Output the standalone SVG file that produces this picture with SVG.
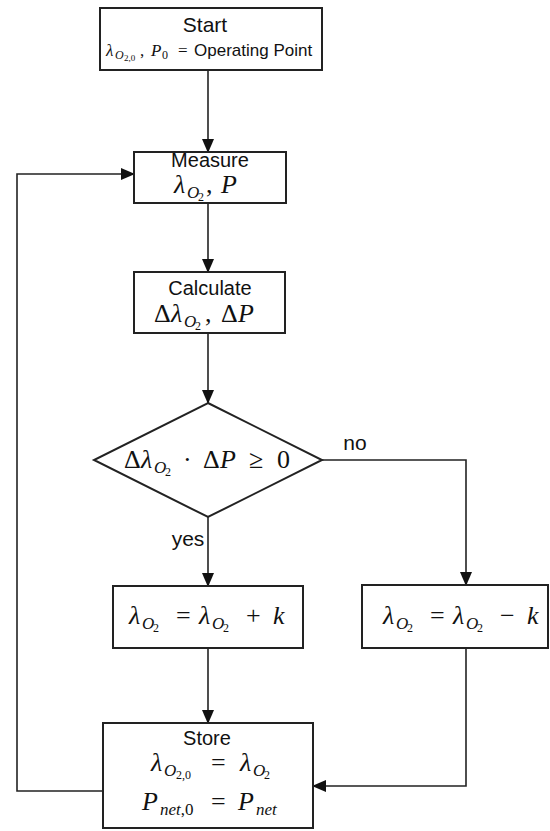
<svg xmlns="http://www.w3.org/2000/svg" width="550" height="831" viewBox="0 0 550 831">
<style>
.box{fill:#fff;stroke:#222;stroke-width:2}
.ln{fill:none;stroke:#222;stroke-width:1.6}
.sans{font-family:"Liberation Sans",Arial,sans-serif;fill:#111}
.m{font-family:"Liberation Serif","Times New Roman",serif;fill:#111}
.i{font-style:italic}
.b{font-size:26px}
.s{font-size:17px}
.ss{font-size:12px}
</style>
<defs>
<marker id="ah" markerWidth="14" markerHeight="12" refX="13" refY="6" orient="auto" markerUnits="userSpaceOnUse">
<path d="M0,0 L14,6 L0,12 Z" fill="#111"/>
</marker>
</defs>
<rect width="550" height="831" fill="#fff"/>

<g id="connectors">
<path class="ln" d="M208,70 V152" marker-end="url(#ah)"/>
<path class="ln" d="M208,203 V272" marker-end="url(#ah)"/>
<path class="ln" d="M208,333 V403" marker-end="url(#ah)"/>
<path class="ln" d="M208,517 V586" marker-end="url(#ah)"/>
<path class="ln" d="M322,460 H466 V585" marker-end="url(#ah)"/>
<path class="ln" d="M208,648 V723" marker-end="url(#ah)"/>
<path class="ln" d="M466,648 V786 H313" marker-end="url(#ah)"/>
<path class="ln" d="M103,791 H17 V174 H134" marker-end="url(#ah)"/>
<text class="sans" x="188" y="546" font-size="21" text-anchor="middle">yes</text>
<text class="sans" x="355" y="450" font-size="21" text-anchor="middle">no</text>
</g>

<g id="start">
<rect class="box" x="100" y="8" width="222" height="62"/>
<text class="sans" x="205" y="32" font-size="21" text-anchor="middle">Start</text>
<text y="56"><tspan class="m i" font-size="17" x="106">λ</tspan><tspan class="m i" font-size="12" x="115" dy="3">O</tspan><tspan class="m" font-size="9" x="124" dy="2">2,0</tspan><tspan class="m" font-size="17" x="140" dy="-5">,</tspan><tspan class="m i" font-size="17" x="151">P</tspan><tspan class="m" font-size="12" x="162" dy="3">0</tspan><tspan class="m" font-size="17" x="178" dy="-3">=</tspan><tspan class="sans" font-size="17" x="194">Operating Point</tspan></text>
</g>

<g id="measure">
<rect class="box" x="134" y="152" width="152" height="51"/>
<text class="sans" x="210" y="167" font-size="20" text-anchor="middle">Measure</text>
<text y="193"><tspan class="m i b" x="174">λ</tspan><tspan class="m i s" x="187" dy="5">O</tspan><tspan class="m ss" x="198" dy="3">2</tspan><tspan class="m b" x="206" dy="-8">,</tspan><tspan class="m i b" x="221">P</tspan></text>
</g>

<g id="calculate">
<rect class="box" x="134" y="272" width="151" height="61"/>
<text class="sans" x="210" y="295" font-size="20" text-anchor="middle">Calculate</text>
<text y="322"><tspan class="m b" x="154">Δ</tspan><tspan class="m i b" x="171">λ</tspan><tspan class="m i s" x="184" dy="5">O</tspan><tspan class="m ss" x="195" dy="3">2</tspan><tspan class="m b" x="205" dy="-8">,</tspan><tspan class="m b" x="221">Δ</tspan><tspan class="m i b" x="238">P</tspan></text>
</g>

<g id="decision">
<polygon class="box" points="208,403 322,460 208,517 94,460"/>
<text y="468"><tspan class="m b" x="124">Δ</tspan><tspan class="m i b" x="141">λ</tspan><tspan class="m i s" x="154" dy="5">O</tspan><tspan class="m ss" x="165" dy="3">2</tspan><tspan class="m b" x="183" dy="-8">·</tspan><tspan class="m b" x="203">Δ</tspan><tspan class="m i b" x="220">P</tspan><tspan class="m b" x="249">≥</tspan><tspan class="m b" x="277">0</tspan></text>
</g>

<g id="increase">
<rect class="box" x="113" y="586" width="190" height="62"/>
<text y="624"><tspan class="m i b" x="129">λ</tspan><tspan class="m i s" x="142" dy="5">O</tspan><tspan class="m ss" x="153" dy="3">2</tspan><tspan class="m b" x="176" dy="-8">=</tspan><tspan class="m i b" x="199">λ</tspan><tspan class="m i s" x="212" dy="5">O</tspan><tspan class="m ss" x="223" dy="3">2</tspan><tspan class="m b" x="246" dy="-8">+</tspan><tspan class="m i b" x="273">k</tspan></text>
</g>

<g id="decrease">
<rect class="box" x="362" y="585" width="186" height="63"/>
<text y="624"><tspan class="m i b" x="383">λ</tspan><tspan class="m i s" x="396" dy="5">O</tspan><tspan class="m ss" x="407" dy="3">2</tspan><tspan class="m b" x="430" dy="-8">=</tspan><tspan class="m i b" x="453">λ</tspan><tspan class="m i s" x="466" dy="5">O</tspan><tspan class="m ss" x="477" dy="3">2</tspan><tspan class="m b" x="500" dy="-8">−</tspan><tspan class="m i b" x="527">k</tspan></text>
</g>

<g id="store">
<rect class="box" x="103" y="723" width="210" height="105"/>
<text class="sans" x="207" y="745" font-size="20" text-anchor="middle">Store</text>
<text y="771"><tspan class="m i b" x="151">λ</tspan><tspan class="m i s" x="164" dy="5">O</tspan><tspan class="m ss" x="176" dy="3">2,0</tspan><tspan class="m b" x="211" dy="-8">=</tspan><tspan class="m i b" x="240">λ</tspan><tspan class="m i s" x="253" dy="5">O</tspan><tspan class="m ss" x="264" dy="3">2</tspan></text>
<text y="810"><tspan class="m i b" x="142">P</tspan><tspan class="m i s" x="160" dy="5">net</tspan><tspan class="m s">,0</tspan><tspan class="m b" x="211" dy="-5">=</tspan><tspan class="m i b" x="238">P</tspan><tspan class="m i s" x="256" dy="5">net</tspan></text>
</g>
</svg>
